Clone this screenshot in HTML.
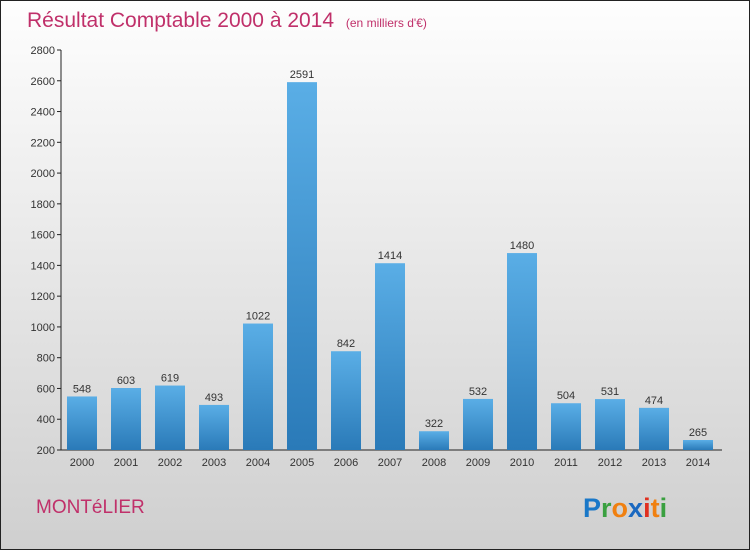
<!DOCTYPE html>
<html><head><meta charset="utf-8"><style>
body{margin:0;width:750px;height:550px;overflow:hidden;font-family:"Liberation Sans",sans-serif}
</style></head><body>
<svg width="750" height="550" xmlns="http://www.w3.org/2000/svg">
<defs>
<linearGradient id="bg" x1="0" y1="0" x2="0" y2="1"><stop offset="0" stop-color="#fefefe"/><stop offset="1" stop-color="#cfcfcf"/></linearGradient>
<linearGradient id="bar" x1="0" y1="0" x2="0" y2="1"><stop offset="0" stop-color="#5aaee6"/><stop offset="1" stop-color="#2a7ab8"/></linearGradient>
</defs>
<rect x="0.5" y="0.5" width="749" height="549" fill="url(#bg)" stroke="#222"/>
<text x="27" y="27" font-size="21" fill="#c0306a">Résultat Comptable 2000 à 2014 <tspan font-size="12" dx="6">(en milliers d'€)</tspan></text>
<g id="axes"></g><g id="bars"></g>
<text x="36" y="513" font-size="19" fill="#c0306a">MONTéLIER</text>
<text x="583" y="517" font-size="27" font-weight="bold"><tspan fill="#1a78c8">P</tspan><tspan fill="#3aa040">r</tspan><tspan fill="#f08010">o</tspan><tspan fill="#1a68c0">x</tspan><tspan fill="#e03020">i</tspan><tspan fill="#f08010">t</tspan><tspan fill="#3aa040">i</tspan></text>
</svg>
<script>
const categories=["2000","2001","2002","2003","2004","2005","2006","2007","2008","2009","2010","2011","2012","2013","2014"];
const values=[548,603,619,493,1022,2591,842,1414,322,532,1480,504,531,474,265];
const ticks=[200,400,600,800,1000,1200,1400,1600,1800,2000,2200,2400,2600,2800];
const ns="http://www.w3.org/2000/svg";
const y=v=>450-(v-200)*400/2600;
const x=i=>82+i*44;
function mk(t,a,p){const e=document.createElementNS(ns,t);for(const k in a)e.setAttribute(k,a[k]);p.appendChild(e);return e;}
const ax=document.getElementById('axes'),bg=document.getElementById('bars');
const yl=mk('line',{x1:61,y1:50,x2:61,y2:450,stroke:'#222'},ax);


const xl=mk('line',{x1:61,y1:450,x2:722,y2:450,stroke:'#222'},ax);


ticks.forEach(t=>{
 mk('line',{x1:57,x2:61,y1:y(t),y2:y(t),stroke:'#222'},ax);
 const tx=mk('text',{x:55,y:y(t)+4,'text-anchor':'end','font-size':11,fill:'#333'},ax);
 tx.textContent=t;
 
 
});
categories.forEach((c,i)=>{
 const r=mk('rect',{x:x(i)-15,y:y(values[i]),width:30,height:450-y(values[i]),fill:'url(#bar)'},bg);
 
 
 const l=mk('text',{x:x(i),y:y(values[i])-4,'text-anchor':'middle','font-size':11,fill:'#333'},bg);
 l.textContent=values[i];
 
 
 const xt=mk('text',{x:x(i),y:466,'text-anchor':'middle','font-size':11,fill:'#333'},bg);
 xt.textContent=c;
 
 
});
</script>
</body></html>
